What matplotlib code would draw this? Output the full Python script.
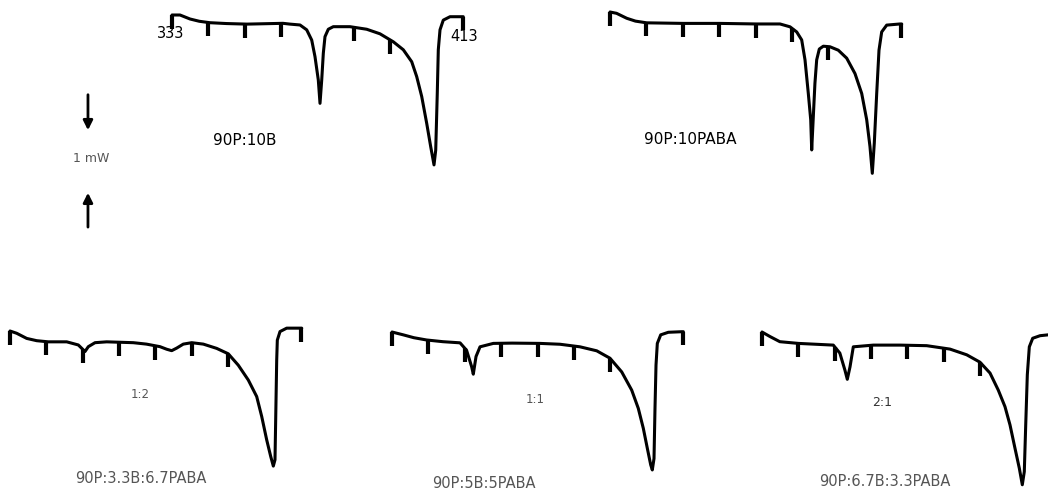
import matplotlib.pyplot as plt
import numpy as np

# DSC scans from 333 K to 413 K, endotherms pointing down.
# heat flow in mW, relative to the value at the start of each scan

# 90P:10B
t_p10b = [333.0, 335.2, 337.95, 340.5, 343.4, 348.0, 353.6, 363.5, 365.44, 368.19,
          370.03, 371.41, 372.31, 373.22, 373.69, 374.16, 374.6, 375.06, 375.97,
          377.34, 381.93, 386.53, 390.18, 393.84, 396.59, 398.9, 400.27, 401.65,
          403.02, 404.12, 405.03, 405.5, 405.93, 406.21, 406.68, 407.58, 409.43, 413.08]
hf_p10b = [0.0, 0.0, -0.07, -0.11, -0.135, -0.15, -0.16, -0.146, -0.16, -0.175,
           -0.26, -0.44, -0.73, -1.14, -1.55, -1.14, -0.67, -0.38, -0.25,
           -0.205, -0.205, -0.25, -0.33, -0.47, -0.61, -0.82, -1.08, -1.43,
           -1.90, -2.31, -2.63, -2.37, -1.37, -0.61, -0.26, -0.09, -0.03, -0.03]
ticks_p10b = [333, 343, 353, 363, 383, 393, 413]

# 90P:10PABA
t_p10paba = [333.0, 334.8, 337.6, 340.0, 343.1, 353.2, 363.2, 373.3, 379.74, 382.49,
             384.33, 385.7, 386.61, 387.52, 388.18, 388.45, 388.89, 389.34, 389.82,
             390.54, 391.64, 393.47, 395.76, 398.07, 400.35, 402.2, 403.57, 404.47,
             405.11, 405.66, 406.32, 406.95, 407.69, 409.07, 412.73, 413.2]
hf_p10paba = [0.0, -0.023, -0.11, -0.16, -0.19, -0.20, -0.20, -0.21, -0.21, -0.26,
              -0.35, -0.49, -0.84, -1.43, -1.89, -2.42, -1.84, -1.25, -0.84,
              -0.65, -0.60, -0.61, -0.67, -0.81, -1.08, -1.43, -1.89, -2.36,
              -2.83, -2.30, -1.43, -0.67, -0.35, -0.23, -0.21, -0.21]
ticks_p10paba = [333, 343, 353, 363, 373, 383, 393, 413]

# 90P:3.3B:6.7PABA  (B:PABA 1:2)
t_12 = [333.0, 334.84, 337.59, 340.34, 343.53, 348.59, 351.78, 353.62, 354.53, 356.37,
        359.58, 366.9, 370.5, 374.24, 376.08, 377.45, 378.83, 380.64, 382.95, 386.14,
        389.82, 393.01, 395.76, 398.51, 400.82, 402.2, 403.57, 404.67, 405.39, 405.85,
        406.04, 406.32, 406.49, 407.23, 409.07, 412.73, 413.2]
hf_12 = [0.0, -0.04, -0.13, -0.17, -0.19, -0.19, -0.245, -0.36, -0.275, -0.205,
         -0.19, -0.205, -0.23, -0.275, -0.32, -0.345, -0.30, -0.23, -0.205, -0.23,
         -0.305, -0.40, -0.60, -0.86, -1.15, -1.50, -1.91, -2.20, -2.37, -2.26,
         -1.56, -0.51, -0.16, -0.01, 0.05, 0.05, 0.05]
ticks_12 = [333, 343, 353, 363, 373, 383, 393, 413]

# 90P:5B:5PABA  (1:1)
t_11 = [333.0, 336.1, 339.0, 342.5, 347.0, 351.7, 353.5, 354.9, 355.35, 356.1,
        357.2, 360.85, 366.0, 373.69, 379.19, 384.68, 389.28, 392.93, 396.15, 398.9,
        400.71, 402.09, 403.19, 404.12, 404.56, 405.03, 405.3, 405.58, 405.94, 406.87,
        408.96, 412.64, 413.1]
hf_11 = [0.0, -0.05, -0.10, -0.14, -0.17, -0.19, -0.32, -0.61, -0.74, -0.43,
         -0.26, -0.20, -0.195, -0.20, -0.215, -0.26, -0.33, -0.46, -0.70, -1.02,
         -1.34, -1.69, -2.04, -2.33, -2.42, -2.22, -1.34, -0.58, -0.20, -0.05,
         -0.005, 0.005, 0.005]
ticks_11 = [333, 343, 353, 363, 373, 383, 393, 413]

# 90P:6.7B:3.3PABA  (2:1)
t_21 = [333.0, 335.2, 337.9, 343.0, 352.6, 354.4, 355.8, 356.45, 357.2, 358.1,
        363.6, 370.94, 378.28, 384.68, 389.28, 392.93, 395.68, 397.96, 399.8, 401.18,
        402.55, 403.74, 404.56, 405.11, 405.5, 405.94, 406.49, 407.42, 409.43, 411.63,
        413.0]
hf_21 = [0.0, -0.08, -0.17, -0.20, -0.23, -0.37, -0.67, -0.83, -0.61, -0.26,
         -0.23, -0.23, -0.24, -0.30, -0.40, -0.53, -0.72, -1.02, -1.31, -1.63,
         -2.04, -2.39, -2.68, -2.45, -1.63, -0.75, -0.26, -0.11, -0.065, -0.05,
         -0.05]
ticks_21 = [333, 343, 353, 363, 373, 383, 393, 413]

W, H = 1048, 490
PX_PER_K = 3.6375
PX_PER_MW = 57.0


def add_panel(fig, x0, y0):
    """x0: pixel column of 333 K, y0: pixel row where the trace starts"""
    w = 80 * PX_PER_K
    h = 4 * PX_PER_MW
    top = y0 - 0.5 * PX_PER_MW
    ax = fig.add_axes([x0 / W, 1 - (top + h) / H, w / W, h / H])
    ax.set_xlim(333, 413)
    ax.set_ylim(-3.5, 0.5)
    ax.axis('off')
    return ax


def draw_trace(ax, t, hf, ticks):
    ax.plot(t, hf, color='black', lw=2.2, clip_on=False,
            solid_joinstyle='round', solid_capstyle='round')
    top = np.interp(ticks, t, hf)
    ax.vlines(ticks, top - 0.24, top, color='black', lw=3, clip_on=False)


fig = plt.figure(figsize=(W / 100, H / 100), dpi=100)

ax1 = add_panel(fig, 172, 15)
draw_trace(ax1, t_p10b, hf_p10b, ticks_p10b)
ax1.text(353.1, -2.21, '90P:10B', ha='center', va='center', fontsize=11)
ax1.text(332.7, -0.32, '333', ha='center', va='center', fontsize=10.5)
ax1.text(413.3, -0.38, '413', ha='center', va='center', fontsize=10.5)

# 1 mW scale
ax1.annotate('', xy=(309.9, -2.07), xytext=(309.9, -1.35), annotation_clip=False,
             arrowprops=dict(arrowstyle='-|>', lw=2, color='black', mutation_scale=14))
ax1.annotate('', xy=(309.9, -3.07), xytext=(309.9, -3.77), annotation_clip=False,
             arrowprops=dict(arrowstyle='-|>', lw=2, color='black', mutation_scale=14))
ax1.text(310.7, -2.51, '1 mW', ha='center', va='center', fontsize=9, color='#555555')

ax2 = add_panel(fig, 610, 12)
draw_trace(ax2, t_p10paba, hf_p10paba, ticks_p10paba)
ax2.text(355.0, -2.23, '90P:10PABA', ha='center', va='center', fontsize=11)

ax3 = add_panel(fig, 10, 331)
draw_trace(ax3, t_12, hf_12, ticks_12)
ax3.text(368.7, -1.11, '1:2', ha='center', va='center', fontsize=8.5, color='#555555')
ax3.text(369.0, -2.58, '90P:3.3B:6.7PABA', ha='center', va='center', fontsize=10.5,
         color='#555555')

ax4 = add_panel(fig, 392, 332)
draw_trace(ax4, t_11, hf_11, ticks_11)
ax4.text(372.3, -1.18, '1:1', ha='center', va='center', fontsize=8.5, color='#555555')
ax4.text(358.3, -2.65, '90P:5B:5PABA', ha='center', va='center', fontsize=10.5,
         color='#555555')

ax5 = add_panel(fig, 762, 332)
draw_trace(ax5, t_21, hf_21, ticks_21)
ax5.text(366.0, -1.23, '2:1', ha='center', va='center', fontsize=9, color='#333333')
ax5.text(366.8, -2.63, '90P:6.7B:3.3PABA', ha='center', va='center', fontsize=10.5,
         color='#555555')

fig.savefig('out.png', dpi=100)
